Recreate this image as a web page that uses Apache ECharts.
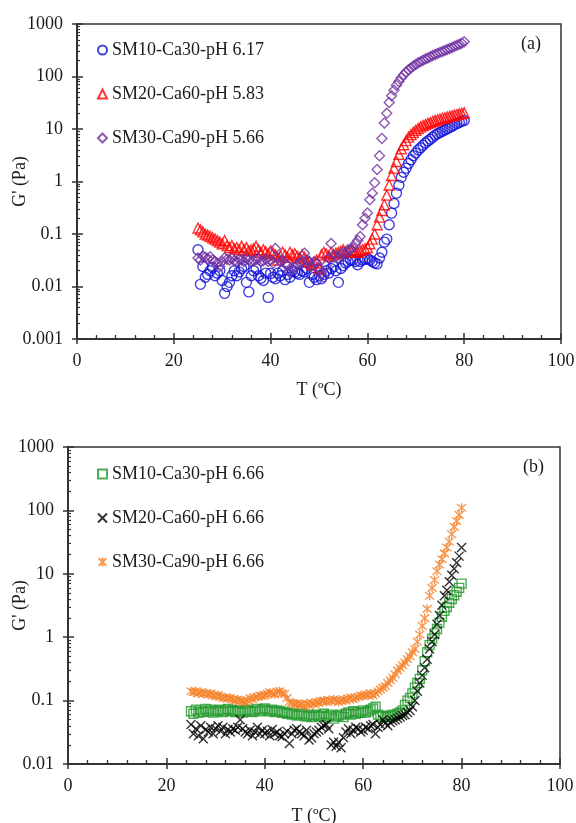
<!DOCTYPE html>
<html>
<head>
<meta charset="utf-8">
<script src="https://cdn.jsdelivr.net/npm/echarts@6/dist/echarts.min.js"></script>
<style>
  html, body { margin: 0; padding: 0; background: #fff; }
  #main { width: 576px; height: 823px; }
</style>
</head>
<body>
<div id="main"></div>
<script>
// temperature steps (ºC), shared by all series
const temps = [
  25, 25.5, 26, 26.5, 27, 27.5, 28, 28.5, 29, 29.5,
  30, 30.5, 31, 31.5, 32, 32.5, 33, 33.5, 34, 34.5,
  35, 35.5, 36, 36.5, 37, 37.5, 38, 38.5, 39, 39.5,
  40, 40.5, 41, 41.5, 42, 42.5, 43, 43.5, 44, 44.5,
  45, 45.5, 46, 46.5, 47, 47.5, 48, 48.5, 49, 49.5,
  50, 50.5, 51, 51.5, 52, 52.5, 53, 53.5, 54, 54.5,
  55, 55.5, 56, 56.5, 57, 57.5, 58, 58.5, 59, 59.5,
  60, 60.5, 61, 61.5, 62, 62.5, 63, 63.5, 64, 64.5,
  65, 65.5, 66, 66.5, 67, 67.5, 68, 68.5, 69, 69.5,
  70, 70.5, 71, 71.5, 72, 72.5, 73, 73.5, 74, 74.5,
  75, 75.5, 76, 76.5, 77, 77.5, 78, 78.5, 79, 79.5,
  80
]

// panel (a)
const namesA = ['SM10-Ca30-pH 6.17', 'SM20-Ca60-pH 5.83', 'SM30-Ca90-pH 5.66']
const sm10a = [
  0.05, 0.011, 0.024, 0.015, 0.017, 0.02, 0.023, 0.016, 0.018, 0.02,
  0.013, 0.0074, 0.01, 0.012, 0.016, 0.02, 0.016, 0.019, 0.022, 0.024,
  0.012, 0.0079, 0.016, 0.02, 0.022, 0.016, 0.0144, 0.013, 0.018, 0.0062,
  0.0178, 0.015, 0.014, 0.018, 0.016, 0.02, 0.0135, 0.017, 0.015, 0.02,
  0.019, 0.018, 0.017, 0.02, 0.019, 0.022, 0.012, 0.017, 0.015, 0.0135,
  0.016, 0.014, 0.017, 0.02, 0.018, 0.022, 0.024, 0.02, 0.012, 0.022,
  0.025, 0.028, 0.03, 0.032, 0.032, 0.03, 0.026, 0.03, 0.032, 0.033,
  0.034, 0.032, 0.03, 0.028, 0.027, 0.035, 0.045, 0.07, 0.08, 0.15,
  0.25, 0.38, 0.6, 0.85, 1.2, 1.5, 1.8, 2.2, 2.6, 3.1,
  3.5, 4.0, 4.4, 4.9, 5.4, 5.9, 6.4, 7.0, 7.6, 8.1,
  8.6, 9.1, 9.6, 10.1, 10.7, 11.3, 12.0, 12.7, 13.3, 14.0,
  14.5
]
const sm20a = [
  0.13, 0.12, 0.11, 0.1, 0.095, 0.09, 0.085, 0.08, 0.075, 0.07,
  0.065, 0.075, 0.06, 0.055, 0.06, 0.052, 0.055, 0.05, 0.058, 0.05,
  0.055, 0.048, 0.05, 0.052, 0.058, 0.05, 0.045, 0.05, 0.046, 0.042,
  0.048, 0.044, 0.04, 0.032, 0.038, 0.045, 0.04, 0.036, 0.045, 0.04,
  0.042, 0.038, 0.035, 0.04, 0.036, 0.03, 0.03, 0.026, 0.028, 0.032,
  0.022, 0.04, 0.045, 0.042, 0.038, 0.045, 0.04, 0.043, 0.045, 0.047,
  0.05, 0.045, 0.048, 0.05, 0.05, 0.045, 0.045, 0.048, 0.05, 0.052,
  0.055, 0.065, 0.08, 0.1, 0.15, 0.21, 0.28, 0.36, 0.55, 0.86,
  1.3, 1.8, 2.4, 3.3, 4.2, 5.0, 6.0, 7.0, 7.8, 8.6,
  9.4, 10.2, 11.0, 11.6, 12.2, 12.8, 13.3, 13.9, 14.4, 15.0,
  15.5, 16.0, 16.4, 16.9, 17.4, 17.9, 18.4, 18.9, 19.4, 19.8,
  20.3
]
const sm30a = [
  0.035, 0.032, 0.038, 0.036, 0.034, 0.037, 0.032, 0.03, 0.028, 0.024,
  0.03, 0.035, 0.033, 0.032, 0.034, 0.031, 0.03, 0.033, 0.032, 0.03,
  0.034, 0.032, 0.03, 0.031, 0.033, 0.034, 0.03, 0.031, 0.033, 0.03,
  0.032, 0.028, 0.053, 0.035, 0.03, 0.032, 0.027, 0.025, 0.019, 0.022,
  0.024, 0.026, 0.028, 0.03, 0.043, 0.032, 0.03, 0.025, 0.03, 0.028,
  0.022, 0.018, 0.015, 0.025, 0.035, 0.066, 0.04, 0.038, 0.035, 0.04,
  0.045, 0.042, 0.05, 0.05, 0.055, 0.065, 0.075, 0.09, 0.15, 0.2,
  0.25, 0.45, 0.6, 0.95, 1.7, 3.1, 6.6, 13, 20, 32,
  43, 55, 68, 80, 95, 108, 122, 135, 145, 158,
  170, 182, 192, 203, 215, 226, 238, 250, 262, 275,
  288, 300, 313, 327, 342, 358, 375, 392, 410, 430,
  460
]

// panel (b)
const namesB = ['SM10-Ca30-pH 6.66', 'SM20-Ca60-pH 6.66', 'SM30-Ca90-pH 6.66']
const sm10b = [
  0.068, 0.062, 0.072, 0.065, 0.07, 0.066, 0.074, 0.068, 0.072, 0.065,
  0.07, 0.068, 0.072, 0.066, 0.07, 0.074, 0.068, 0.071, 0.066, 0.07,
  0.068, 0.065, 0.07, 0.072, 0.068, 0.066, 0.07, 0.074, 0.068, 0.072,
  0.075, 0.07, 0.068, 0.072, 0.066, 0.07, 0.068, 0.064, 0.066, 0.062,
  0.064, 0.06, 0.062, 0.058, 0.06, 0.062, 0.058, 0.056, 0.06, 0.055,
  0.058, 0.06, 0.056, 0.058, 0.062, 0.055, 0.058, 0.06, 0.052, 0.056,
  0.058, 0.06, 0.055, 0.062, 0.065, 0.06, 0.068, 0.062, 0.066, 0.064,
  0.07, 0.065, 0.068, 0.072, 0.075, 0.08, 0.06, 0.056, 0.058, 0.055,
  0.056, 0.058, 0.06, 0.058, 0.062, 0.065, 0.07, 0.085, 0.1, 0.11,
  0.13, 0.16, 0.19, 0.22, 0.3, 0.42, 0.58, 0.75, 0.95, 1.15,
  1.35, 1.7, 2.1, 2.6, 3.0, 3.5, 4.0, 4.6, 5.2, 6.0,
  7.0
]
const sm20b = [
  0.042, 0.03, 0.036, 0.028, 0.04, 0.025, 0.035, 0.032, 0.038, 0.03,
  0.036, 0.04, 0.033, 0.038, 0.03, 0.035, 0.032, 0.036, 0.034, 0.038,
  0.05, 0.036, 0.032, 0.03, 0.034, 0.028, 0.032, 0.038, 0.03, 0.034,
  0.03, 0.033, 0.028, 0.035, 0.03, 0.032, 0.028, 0.027, 0.03, 0.033,
  0.021, 0.03, 0.034, 0.036, 0.032, 0.03, 0.028, 0.034, 0.024, 0.026,
  0.03, 0.032, 0.034, 0.038, 0.04, 0.042, 0.036, 0.02, 0.022, 0.019,
  0.022, 0.018, 0.026, 0.032, 0.036, 0.03, 0.034, 0.038, 0.036, 0.032,
  0.034, 0.038, 0.036, 0.04, 0.042, 0.03, 0.038, 0.042, 0.05, 0.044,
  0.04, 0.045, 0.048, 0.05, 0.052, 0.055, 0.058, 0.06, 0.065, 0.07,
  0.08, 0.1, 0.14, 0.19, 0.25, 0.33, 0.45, 0.65, 0.85, 1.1,
  1.6, 2.2, 3.2, 4.5, 5.5, 7.5, 9.5, 12, 15, 19,
  26
]
const sm30b = [
  0.14, 0.135, 0.14, 0.13, 0.135, 0.128, 0.132, 0.125, 0.13, 0.12,
  0.118, 0.122, 0.115, 0.11, 0.112, 0.108, 0.11, 0.105, 0.1, 0.104,
  0.1, 0.098, 0.095, 0.1, 0.11, 0.105, 0.112, 0.115, 0.12, 0.118,
  0.122, 0.128, 0.135, 0.13, 0.125, 0.138, 0.14, 0.13, 0.128, 0.11,
  0.095, 0.092, 0.088, 0.09, 0.085, 0.088, 0.082, 0.09, 0.085, 0.092,
  0.088, 0.095, 0.092, 0.098, 0.1, 0.095, 0.102, 0.098, 0.105, 0.1,
  0.095, 0.1, 0.105, 0.1, 0.108, 0.112, 0.105, 0.11, 0.115, 0.12,
  0.118, 0.125, 0.12, 0.13, 0.12, 0.13, 0.14, 0.15, 0.16, 0.17,
  0.19, 0.21, 0.23, 0.26, 0.3, 0.33, 0.36, 0.4, 0.45, 0.5,
  0.58, 0.65, 0.85, 1.1, 1.5, 2.0, 2.8, 4.5, 6, 8,
  11, 14, 17, 21, 26, 32, 42, 55, 68, 85,
  110
]

// tick labels
const xLabels = ['0', '20', '40', '60', '80', '100']
const yLabelsA = ['0.001', '0.01', '0.1', '1', '10', '100', '1000']
const yLabelsB = ['0.01', '0.1', '1', '10', '100', '1000']

const font = '"Liberation Serif", "Times New Roman", serif'
const fs = 18
const axisColor = '#333'
const textColor = '#1a1a1a'

function pairs(vals) {
  return temps.map((t, i) => [t, vals[i]])
}

// main x axis: line, inside ticks, labels, name
function xMain(g, gap) {
  return {
    gridIndex: g, type: 'value', min: 0, max: 100, interval: 20,
    name: 'T (ºC)', nameLocation: 'middle', nameGap: gap, nameMoveOverlap: false,
    nameTextStyle: { fontFamily: font, fontSize: fs, color: textColor },
    axisLine: { show: true, lineStyle: { color: axisColor, width: 2 } },
    axisTick: { show: true, inside: true, length: 6, lineStyle: { color: axisColor, width: 1.5 } },
    minorTick: { show: true, splitNumber: 5, length: 4, lineStyle: { color: axisColor, width: 1.3 } },
    axisLabel: {
      show: true, margin: 13, fontFamily: font, fontSize: fs, color: textColor,
      formatter: (v) => xLabels[Math.round(v / 20)],
    },
    splitLine: { show: false },
  }
}
// bare x axis on an overlay grid: outward half of the major ticks
function xOut(g) {
  return {
    gridIndex: g, type: 'value', min: 0, max: 100, interval: 20,
    axisLine: { show: false },
    axisTick: { show: true, inside: false, length: 5, lineStyle: { color: axisColor, width: 1.5 } },
    axisLabel: { show: false },
    splitLine: { show: false },
  }
}

function yMain(g, min, labels, offset, gap) {
  return {
    gridIndex: g, type: 'log', min: min, max: 1000,
    name: "G' (Pa)", nameLocation: 'middle', nameGap: gap, nameMoveOverlap: false,
    nameTextStyle: { fontFamily: font, fontSize: fs, color: textColor },
    axisLine: { show: true, lineStyle: { color: axisColor, width: 2 } },
    axisTick: { show: true, inside: true, length: 6, lineStyle: { color: axisColor, width: 1.5 } },
    minorTick: { show: true, splitNumber: 9, length: 3, lineStyle: { color: axisColor, width: 1.2 } },
    axisLabel: {
      show: true, margin: 14, fontFamily: font, fontSize: fs, color: textColor,
      formatter: (v) => labels[Math.round(Math.log10(v)) + offset],
    },
    splitLine: { show: false },
  }
}
function yOut(g, min) {
  return {
    gridIndex: g, type: 'log', min: min, max: 1000,
    axisLine: { show: false },
    axisTick: { show: true, inside: false, length: 5, lineStyle: { color: axisColor, width: 1.5 } },
    axisLabel: { show: false },
    splitLine: { show: false },
  }
}

function scatter(name, vals, xi, symbol, size, color) {
  return {
    name: name,
    type: 'scatter',
    xAxisIndex: xi,
    yAxisIndex: xi,
    symbol: symbol,
    symbolSize: size,
    itemStyle: { color: 'rgba(0,0,0,0)', borderColor: color, borderWidth: 1.4 },
    emphasis: { disabled: true },
    data: pairs(vals),
  }
}

const crossPath = 'path://M0,0L10,10M10,0L0,10'
const starPath = 'path://M0,0L10,10M10,0L0,10M5,-1L5,11'

const legendBase = {
  orient: 'vertical', left: 92, itemWidth: 9, itemHeight: 9, itemGap: 26,
  selectedMode: false,
  textStyle: { fontFamily: font, fontSize: fs, color: textColor },
}

const gridA = { left: 77, top: 24, width: 484, height: 315, outerBoundsMode: 'none' }
const gridB = { left: 68, top: 447, width: 492, height: 317, outerBoundsMode: 'none' }
const frame = { show: true, borderColor: axisColor, borderWidth: 1.5 }

const option = {
  animation: false,
  grid: [
    Object.assign({}, gridA, frame),
    Object.assign({}, gridB, frame),
    Object.assign({}, gridA),
    Object.assign({}, gridB),
  ],
  xAxis: [xMain(0, 42), xMain(1, 43), xOut(2), xOut(3)],
  yAxis: [
    yMain(0, 0.001, yLabelsA, 3, 48),
    yMain(1, 0.01, yLabelsB, 2, 39),
    yOut(2, 0.001),
    yOut(3, 0.01),
  ],
  legend: [
    Object.assign({ top: 36, data: namesA }, legendBase),
    Object.assign({ top: 460, data: namesB }, legendBase),
  ],
  graphic: [
    { type: 'text', left: 521, top: 35, style: { text: '(a)', font: fs + 'px ' + font, fill: textColor } },
    { type: 'text', left: 523, top: 458, style: { text: '(b)', font: fs + 'px ' + font, fill: textColor } },
  ],
  series: [
    scatter(namesA[0], sm10a, 0, 'circle', 10, '#1010d8'),
    scatter(namesA[1], sm20a, 0, 'triangle', 10, '#ff0000'),
    scatter(namesA[2], sm30a, 0, 'diamond', 10, '#7030a0'),
    scatter(namesB[0], sm10b, 1, 'rect', 9, '#22992a'),
    scatter(namesB[1], sm20b, 1, crossPath, 9, '#000000'),
    scatter(namesB[2], sm30b, 1, starPath, 9, '#f58025'),
  ],
}

const chart = echarts.init(document.getElementById('main'), null, { renderer: 'canvas' })
chart.setOption(option)
</script>
</body>
</html>
